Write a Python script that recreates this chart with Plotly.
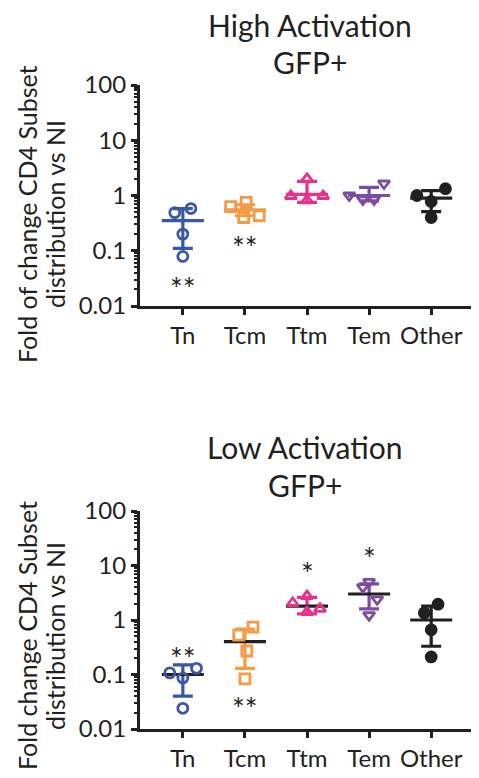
import plotly.graph_objects as go

# ---------------- data ----------------
categories = ["Tn", "Tcm", "Ttm", "Tem", "Other"]
colors = ["#3B57A7", "#F59A45", "#E8318A", "#7B4DA0", "#231F20"]
symbols = ["circle-open", "square-open", "triangle-up-open", "triangle-down-open", "circle"]

# High activation (top panel): individual values per subset
top_values = [
    [0.58, 0.49, 0.20, 0.079],
    [0.63, 0.75, 0.40, 0.43],
    [2.0, 0.98, 0.98, 0.82],
    [1.0, 0.85, 0.85, 1.65],
    [1.0, 1.33, 0.78, 0.40],
]
top_jitter = [
    [0.13, -0.13, 0.0, 0.0],
    [-0.23, 0.02, -0.02, 0.23],
    [0.0, -0.26, 0.26, 0.0],
    [-0.32, -0.10, 0.08, 0.24],
    [-0.23, 0.23, 0.0, 0.0],
]
top_mean = [0.35, 0.55, 1.05, 1.0, 0.9]
top_hi = [0.58, 0.68, 1.8, 1.4, 1.23]
top_lo = [0.11, 0.43, 0.75, 0.8, 0.51]
top_stars = ["**", "**"]
top_star_cat = [0, 1]
top_star_y = [-1.59, -0.85]  # log10 positions

# Low activation (bottom panel)
bot_values = [
    [0.107, 0.086, 0.13, 0.024],
    [0.53, 0.74, 0.27, 0.083],
    [2.05, 2.75, 1.4, 1.6],
    [4.0, 5.0, 2.4, 1.23],
    [1.35, 1.95, 0.66, 0.21],
]
bot_jitter = [
    [-0.21, 0.0, 0.22, 0.0],
    [-0.10, 0.13, 0.03, 0.0],
    [-0.23, 0.0, 0.0, 0.21],
    [-0.10, 0.0, 0.13, 0.0],
    [-0.11, 0.11, 0.0, 0.0],
]
bot_mean = [0.10, 0.40, 1.8, 3.0, 1.0]
bot_hi = [0.15, 0.68, 2.6, 4.6, 1.8]
bot_lo = [0.04, 0.13, 1.3, 1.6, 0.33]
bot_stars = ["**", "**", "*", "*"]
bot_star_cat = [0, 1, 2, 3]
bot_star_y = [-0.61, -1.52, 0.95, 1.23]

# ---------------- figure ----------------
OFF = 8                      # default page margin around the plot div
W, H = 479 - OFF, 778 - OFF  # figure size so it fits the window
FONT = "Lato"
INK = "#231F20"


def px(x):  # screen pixel -> paper x
    return (x - OFF) / W


def py(y):  # screen pixel -> paper y
    return 1 - (y - OFF) / H


fig = go.Figure()


def add_panel(values, jitter, mean, hi, lo, xa, ya, mean_black):
    for i, cat in enumerate(categories):
        mc = INK if mean_black else colors[i]
        fig.add_trace(go.Scatter(
            x=[i], y=[mean[i]], mode="markers", xaxis=xa, yaxis=ya,
            marker=dict(symbol="line-ew", size=30, color=mc,
                        line=dict(color=mc, width=3.2)),
            error_y=dict(type="data", symmetric=False,
                         array=[hi[i] - mean[i]], arrayminus=[mean[i] - lo[i]],
                         color=colors[i], thickness=3.2, width=10),
            showlegend=False, hoverinfo="skip"))
    for i, cat in enumerate(categories):
        xs = [i + j for j in jitter[i]]
        fig.add_trace(go.Scatter(
            x=xs, y=values[i], mode="markers", xaxis=xa, yaxis=ya,
            marker=dict(symbol=symbols[i], size=10, color=colors[i],
                        line=dict(color=colors[i], width=2.8)),
            showlegend=False, hoverinfo="skip"))


add_panel(top_values, top_jitter, top_mean, top_hi, top_lo, "x", "y", False)
add_panel(bot_values, bot_jitter, bot_mean, bot_hi, bot_lo, "x2", "y2", True)

x_dom = [px(140), 1.0]
axis_common = dict(showline=True, linewidth=3.2, linecolor=INK, showgrid=False,
                   zeroline=False, ticks="outside", ticklen=6, tickwidth=3,
                   tickcolor=INK, automargin=False,
                   tickfont=dict(family=FONT, size=24, color=INK))
xcommon = dict(axis_common, range=[-0.69, 4.77], tickmode="array",
               tickvals=list(range(len(categories))), ticktext=categories, domain=x_dom)
ycommon = dict(axis_common, type="log", range=[-2, 2], tickmode="array",
               tickvals=[0.01, 0.1, 1, 10, 100], ticktext=["0.01", "0.1", "1", "10", "100"],
               minor=dict(ticks="outside", ticklen=3, tickwidth=1.5, tickcolor=INK,
                          tickvals=[m * 10 ** e for e in range(-2, 2) for m in range(2, 10)]))

fig.update_layout(
    width=W, height=H, margin=dict(l=0, r=0, t=0, b=0, autoexpand=False),
    paper_bgcolor="white", plot_bgcolor="white",
    font=dict(family=FONT, color=INK),
    xaxis=dict(xcommon, anchor="y"),
    yaxis=dict(ycommon, anchor="x", domain=[py(306), py(85)]),
    xaxis2=dict(xcommon, anchor="y2"),
    yaxis2=dict(ycommon, anchor="x2", domain=[py(729), py(511)]),
)

# dotted reference line at 1
for xr, yr in [("x domain", "y"), ("x2 domain", "y2")]:
    fig.add_shape(type="line", xref=xr, yref=yr, x0=0, x1=1, y0=0, y1=0,
                  line=dict(color=INK, width=3, dash="3px,7px"), layer="below")

# significance stars
for s, c, yv in zip(top_stars, top_star_cat, top_star_y):
    fig.add_annotation(x=c, y=yv, xref="x", yref="y", text=s, showarrow=False,
                       font=dict(family=FONT, size=30, color=INK), yshift=-5)
for s, c, yv in zip(bot_stars, bot_star_cat, bot_star_y):
    fig.add_annotation(x=c, y=yv, xref="x2", yref="y2", text=s, showarrow=False,
                       font=dict(family=FONT, size=30, color=INK), yshift=-5)


def label(text, xp, yp, size, angle=0):
    fig.add_annotation(x=px(xp), y=py(yp), xref="paper", yref="paper", text=text,
                       showarrow=False, xanchor="center", yanchor="middle",
                       textangle=angle, font=dict(family=FONT, size=size, color=INK))


# titles
label("High Activation", 310, 25, 30)
label("GFP+", 310, 62, 30)
label("Low Activation", 305, 447, 30)
label("GFP+", 305, 485, 30)

# y-axis titles
label("Fold of change CD4 Subset", 27, 214, 25, -90)
label("distribution vs NI", 55, 214, 25, -90)
label("Fold change CD4 Subset", 27, 636, 25, -90)
label("distribution vs NI", 55, 636, 25, -90)

fig.write_html("out.html")
